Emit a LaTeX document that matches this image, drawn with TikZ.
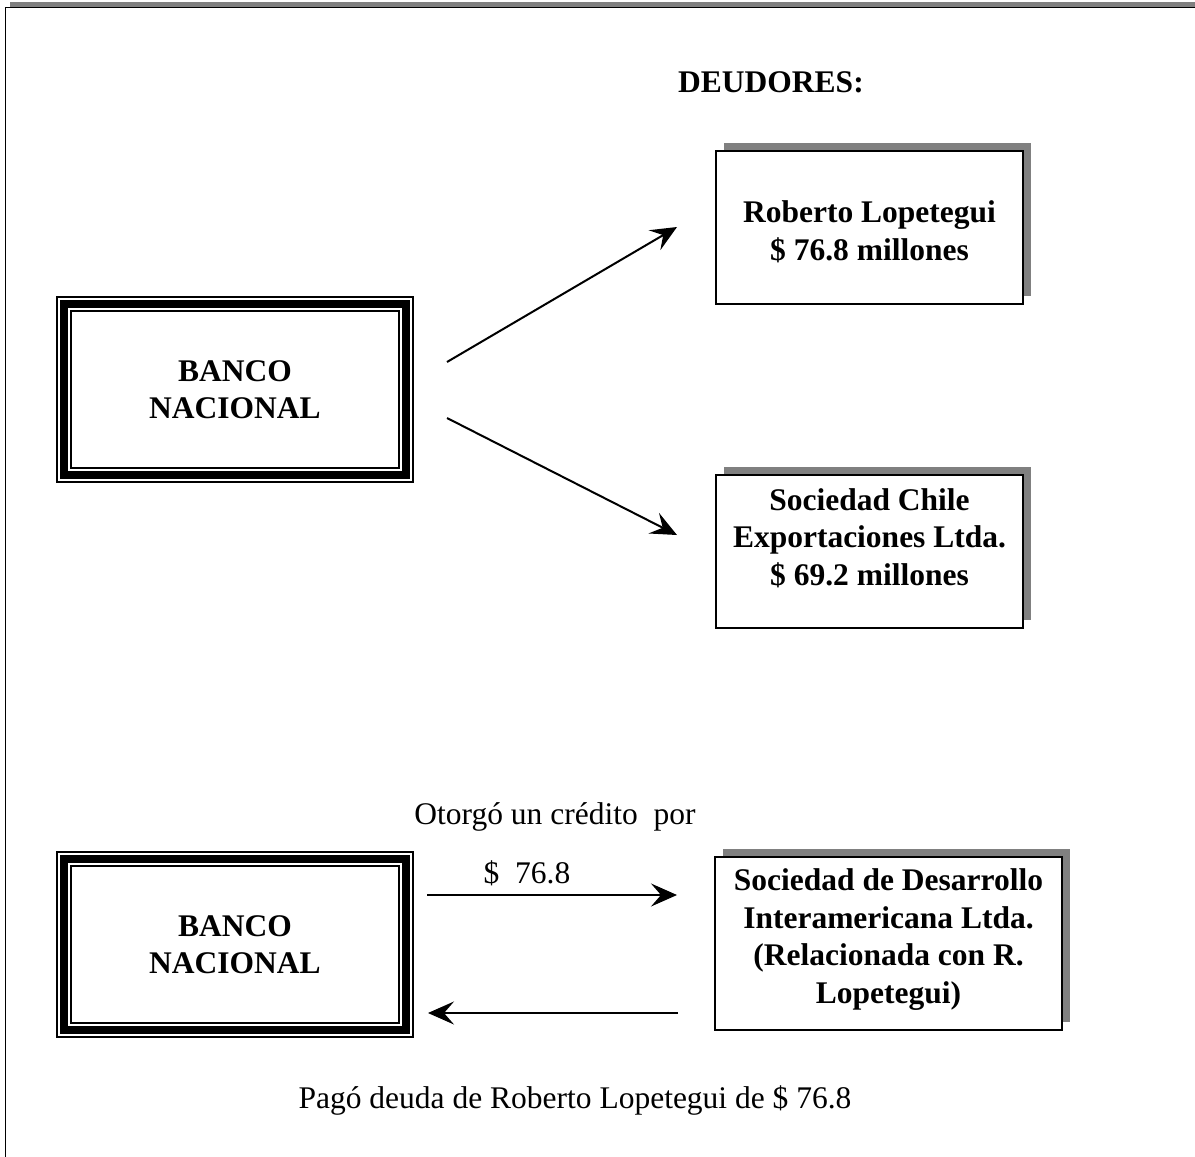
\documentclass[tikz,border=0pt]{standalone}
\usepackage{fontspec}
\setmainfont{Liberation Serif}
\usetikzlibrary{arrows.meta,shadows}
\begin{document}
\begin{tikzpicture}[x=1pt,y=-1pt,
  every node/.style={align=center, inner sep=0pt, font=\fontsize{31}{37.5}\selectfont},
  boldtext/.style={font=\fontsize{31.5}{37.5}\selectfont\bfseries},
  plaintext/.style={font=\fontsize{31.5}{37.5}\selectfont},
  shadowbox/.style={draw, line width=2pt, fill=white,
    drop shadow={shadow xshift=8pt, shadow yshift=8pt, fill=black!50, opacity=1}},
  bankbox/.style={draw, line width=7.5pt, minimum width=342pt, minimum height=171pt},
  thinframe/.style={line width=1.6pt},
  arr/.style={line width=2pt, -{Stealth[length=26pt,width=23pt,inset=10pt]}}
]
\useasboundingbox (0,0) rectangle (1195,1157);
% outer page frame with shadow
\fill[black!50] (10,2) rectangle (1210,1170);
\draw[fill=white, line width=1.8pt] (5.5,7.5) rectangle (1210,1175);

% heading
\node[boldtext] (deud) at (771,82) {DEUDORES:};

% bank 1
\node[bankbox, boldtext] (b1) at (235,389.5) {BANCO\\NACIONAL};
\draw[thinframe] ([xshift=-3.5pt,yshift=3.5pt]b1.north west) rectangle ([xshift=3.5pt,yshift=-3.5pt]b1.south east);
\draw[thinframe] ([xshift=10.5pt,yshift=-10.5pt]b1.north west) rectangle ([xshift=-10.5pt,yshift=10.5pt]b1.south east);

% debtors
\node[shadowbox, minimum width=307pt, minimum height=153pt] (rl) at (869.5,227.5) {};
\node[boldtext] (rlt) at (869.5,232) {Roberto Lopetegui\\\$ 76.8 millones};
\node[shadowbox, minimum width=307pt, minimum height=153pt] (sc) at (869.5,551.5) {};
\node[boldtext] (sct) at (869.5,538) {Sociedad Chile\\Exportaciones Ltda.\\\$ 69.2 millones};

\coordinate (a1s) at (447,362);
\coordinate (a1e) at (677,227);
\coordinate (a2s) at (447,418);
\coordinate (a2e) at (677,535);
\draw[arr] (a1s) -- (a1e);
\draw[arr] (a2s) -- (a2e);

% bank 2
\node[bankbox, boldtext] (b2) at (235,944.5) {BANCO\\NACIONAL};
\draw[thinframe] ([xshift=-3.5pt,yshift=3.5pt]b2.north west) rectangle ([xshift=3.5pt,yshift=-3.5pt]b2.south east);
\draw[thinframe] ([xshift=10.5pt,yshift=-10.5pt]b2.north west) rectangle ([xshift=-10.5pt,yshift=10.5pt]b2.south east);

\node[shadowbox, minimum width=347pt, minimum height=173pt] (sd) at (888.5,943.5) {};
\node[boldtext] (sdt) at (888.5,939.5) {Sociedad de Desarrollo\\Interamericana Ltda.\\(Relacionada con R.\\Lopetegui)};

\node[plaintext] (otorgo) at (555,817) {Otorgó un crédito\ \ por};
\node[plaintext] (monto) at (527,873) {\$\ \ 76.8};
\coordinate (a3s) at (427,895);
\coordinate (a3e) at (677,895);
\coordinate (a4s) at (678,1013);
\coordinate (a4e) at (428,1013);
\draw[arr] (a3s) -- (a3e);
\draw[arr] (a4s) -- (a4e);

\node[plaintext] (pago) at (575,1100) {Pagó deuda de Roberto Lopetegui de \$ 76.8};
\end{tikzpicture}
\end{document}
